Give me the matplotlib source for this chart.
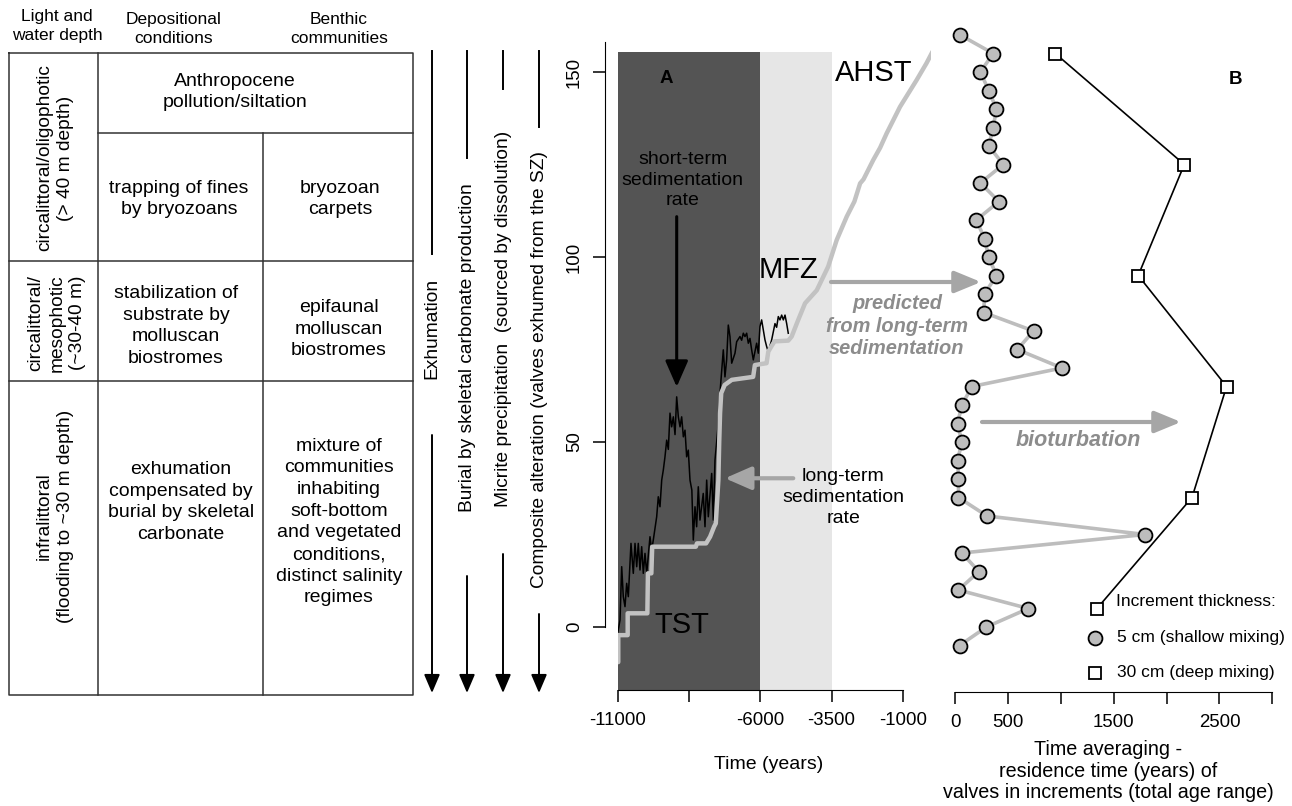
import matplotlib
matplotlib.use('Agg')
import matplotlib.pyplot as plt
from matplotlib.patches import Rectangle

plt.rcParams['font.family'] = ['Liberation Sans', 'DejaVu Sans']

# --- panel A: short-term sedimentation (black) ---
short_x = [-11000, -10919, -10860, -10804, -10744, -10685, -10628, -10534, -10453, -10393,
           -10334, -10278, -10218, -10159, -10102, -10043, -9983, -9868, -9808, -9752,
           -9633, -9577, -9517, -9457, -9401, -9342, -9282, -9225, -9166, -9108,
           -9049, -8990, -8932, -8874, -8815, -8757, -8698, -8640, -8582, -8525,
           -8465, -8400, -8349, -8290, -8232, -8174, -8115, -8000, -7939, -7880,
           -7823, -7704, -7647, -7589, -7530, -7473, -7414, -7297, -7239, -7180,
           -7122, -7063, -7003, -6887, -6829, -6712, -6654, -6595, -6537, -6478,
           -6420, -6362, -6303, -6245, -6128, -6070, -6011, -5953, -5836, -5777,
           -5720, -5601, -5485, -5427, -5368, -5310, -5250, -5192, -5133, -5075, -5019]
short_y = [-1.7, 1.9, 16.3, 8.2, 5.5, 11.8, 8.2, 22.6, 14.5, 22.6,
           16.3, 22.6, 15.4, 21.7, 14.5, 19.9, 14.5, 24.4, 20.8, 23.5,
           29.8, 35.2, 32.5, 39.7, 42.4, 46.0, 50.5, 48.0, 57.8, 54.1,
           56.8, 52.0, 62.2, 56.8, 54.1, 56.8, 51.4, 53.2, 46.0, 47.8,
           39.7, 37.0, 23.5, 32.5, 27.1, 37.9, 28.9, 36.1, 27.1, 39.7,
           29.8, 41.5, 28.9, 45.1, 50.0, 55.0, 63.2, 74.9, 67.6, 72.2,
           81.6, 78.5, 71.3, 74.0, 77.1, 78.5, 77.5, 79.4, 78.5, 79.4,
           76.7, 78.0, 74.9, 72.2, 76.7, 74.0, 81.2, 83.0, 77.6, 75.8,
           74.4, 77.6, 82.0, 81.0, 83.9, 83.0, 84.3, 83.0, 84.3, 82.0, 79.4]

# --- panel A: long-term sedimentation (grey) ---
long_x = [-10980, -10980, -10650, -10650, -9960, -9940, -9820, -9790, -8260, -8220,
          -7900, -7760, -7620, -7560, -7470, -7440, -7410, -7370, -7250, -7000,
          -6250, -6190, -5780, -5720, -5600, -5500, -5020, -4900, -4670, -4430,
          -4020, -3620, -3320, -2970, -2700, -2500, -2380, -2040, -1800, -1570,
          -1100, -520, -170, 40]
long_y = [-9.5, -2.2, -2.2, 3.7, 3.7, 14.5, 14.5, 21.7, 21.7, 22.6,
          22.6, 24.4, 27.1, 28.0, 39.7, 50.0, 57.8, 63.2, 65.4, 66.8,
          67.6, 70.8, 71.3, 74.4, 76.0, 77.2, 77.4, 78.5, 83.0, 87.5,
          91.0, 97.4, 104.6, 110.9, 115.0, 119.9, 121.0, 126.2, 129.5, 133.4,
          140.6, 147.8, 152.4, 155.5]

# --- panel B: time averaging ---
depth_5cm = [160, 155, 150, 145, 140, 135, 130, 125, 120, 115, 110, 105, 100, 95, 90, 85, 80,
             75, 70, 65, 60, 55, 50, 45, 40, 35, 30, 25, 20, 15, 10, 5, 0, -5]
range_5cm = [47, 359, 238, 317, 390, 359, 317, 455, 238, 413, 200, 277, 317, 390, 277, 270, 741,
             587, 1010, 158, 63, 22, 63, 22, 31, 31, 301, 1796, 63, 223, 31, 692, 295, 41]
depth_30cm = [155, 125, 95, 65, 35, 5]
range_30cm = [947, 2167, 1731, 2567, 2240, 1341]

a_ticks = [-11000, -8500, -6000, -3500, -1000]
a_ticklabels = ['-11000', '', '-6000', '-3500', '-1000']
b_ticks = [0, 500, 1000, 1500, 2000, 2500, 3000]
b_ticklabels = ['0', '500', '', '1500', '', '2500', '']

W, H = 1292, 806
fig = plt.figure(figsize=(W / 100, H / 100), dpi=100)


def box(x0, y0, x1, y1):
    return [x0 / W, 1 - y1 / H, (x1 - x0) / W, (y1 - y0) / H]


# overlay in pixel coordinates for the table and the arrows
ov = fig.add_axes([0, 0, 1, 1], zorder=5)
ov.set_xlim(0, W)
ov.set_ylim(H, 0)
ov.axis('off')

lc = '#333333'
tl = 1.1
ov.plot([8.5, 413, 413, 8.5, 8.5], [52.5, 52.5, 695, 695, 52.5], color=lc, lw=tl)
ov.plot([98, 98], [52.5, 695], color=lc, lw=tl)
ov.plot([263, 263], [133, 695], color=lc, lw=tl)
ov.plot([98, 413], [133, 133], color=lc, lw=tl)
ov.plot([8.5, 413], [261, 261], color=lc, lw=tl)
ov.plot([8.5, 413], [381, 381], color=lc, lw=tl)

hf = 12.5
ov.text(57, 26, 'Light and\nwater depth', ha='center', va='center', fontsize=hf, linespacing=1.3)
ov.text(174, 29, 'Depositional\nconditions', ha='center', va='center', fontsize=hf, linespacing=1.3)
ov.text(339, 29, 'Benthic\ncommunities', ha='center', va='center', fontsize=hf, linespacing=1.3)

tf = 14
ls = 1.36
ov.text(235, 92, 'Anthropocene\npollution/siltation', ha='center', va='center', fontsize=tf, linespacing=ls)
ov.text(179, 199, 'trapping of fines\nby bryozoans', ha='center', va='center', fontsize=tf, linespacing=ls)
ov.text(340, 199, 'bryozoan\ncarpets', ha='center', va='center', fontsize=tf, linespacing=ls)
ov.text(176, 326, 'stabilization of\nsubstrate by\nmolluscan\nbiostromes', ha='center', va='center',
        fontsize=tf, linespacing=ls)
ov.text(339, 329, 'epifaunal\nmolluscan\nbiostromes', ha='center', va='center', fontsize=tf, linespacing=ls)
ov.text(181, 502, 'exhumation\ncompensated by\nburial by skeletal\ncarbonate', ha='center', va='center',
        fontsize=tf, linespacing=ls)
ov.text(339, 522, 'mixture of\ncommunities\ninhabiting\nsoft-bottom\nand vegetated\nconditions,\ndistinct salinity\nregimes',
        ha='center', va='center', fontsize=tf, linespacing=ls)
rf = 13.8
ov.text(55, 158, 'circalittoral/oligophotic\n(> 40 m depth)', ha='center', va='center', rotation=90,
        fontsize=rf, linespacing=1.3)
ov.text(57, 323, 'circalittoral/\nmesophotic\n(~30-40 m)', ha='center', va='center', rotation=90,
        fontsize=rf, linespacing=1.3)
ov.text(55, 516, 'infralittoral\n(flooding to ~30 m depth)', ha='center', va='center', rotation=90,
        fontsize=rf, linespacing=1.3)

# process columns with downward arrows
cols = [
    (432, 'Exhumation', 328, 254, 435),
    (467, 'Burial by skeletal carbonate production', 348, 158, 576),
    (503, 'Micrite precipitation  (sourced by dissolution)', 319, 89, 554),
    (539, 'Composite alteration (valves exhumed from the SZ)', 370, 127, 614),
]
for x, label, ty, top_end, bot_start in cols:
    ov.plot([x, x], [51, top_end], color='k', lw=1.4)
    ov.annotate('', xy=(x, 693), xytext=(x, bot_start),
                arrowprops=dict(arrowstyle='-|>,head_length=0.75,head_width=0.32', lw=1.4, color='k',
                                mutation_scale=15, shrinkA=0, shrinkB=0))
    ov.text(x, ty, label, ha='center', va='center', rotation=90, fontsize=13.8)

# ---------------- panel A ----------------
ax_a = fig.add_axes(box(617.7, 42.4, 931.4, 689.9))
ax_a.set_xlim(-11000, 0)
ax_a.set_ylim(-17, 158)
ax_a.add_patch(Rectangle((-11000, -17), 5000, 172.5, color='#545454', zorder=0, lw=0))
ax_a.add_patch(Rectangle((-6000, -17), 2500, 172.5, color='#e6e6e6', zorder=0, lw=0))
ax_a.plot(short_x, short_y, color='k', lw=1.1, zorder=2)
ax_a.plot(long_x, long_y, color='#c2c2c2', lw=3.2, zorder=3, solid_capstyle='round')

for s in ['top', 'right']:
    ax_a.spines[s].set_visible(False)
ax_a.spines['left'].set_position(('outward', 9.1))
ax_a.spines['left'].set_bounds(0, 158)
ax_a.spines['bottom'].set_bounds(-11000, -1000)
ax_a.set_xticks(a_ticks)
ax_a.set_xticklabels(a_ticklabels)
ax_a.set_yticks([0, 50, 100, 150])
ax_a.set_yticklabels(['0', '50', '100', '150'], rotation=90, va='center')
ax_a.tick_params(axis='both', length=8.5, width=1.1, direction='out', labelsize=13.4, pad=7.5)
ax_a.set_xlabel('Time (years)', fontsize=14)
ax_a.xaxis.set_label_coords(0.48, -0.102)

ax_a.text(-9307, 148.3, 'A', fontweight='bold', fontsize=13.5, ha='center', va='center')
ax_a.text(-8721, 120.8, 'short-term\nsedimentation\nrate', fontsize=14, ha='center', va='center',
          linespacing=1.3)
ax_a.annotate('', xy=(-8931, 64.9), xytext=(-8931, 110.9),
              arrowprops=dict(arrowstyle='-|>,head_length=0.8,head_width=0.35', lw=2.2, color='k',
                              mutation_scale=20, shrinkA=0, shrinkB=0))
ax_a.text(-3091, 35.1, 'long-term\nsedimentation\nrate', fontsize=14, ha='center', va='center',
          linespacing=1.3)
ax_a.annotate('', xy=(-7238, 40.2), xytext=(-4844, 40.2),
              arrowprops=dict(arrowstyle='-|>,head_length=0.8,head_width=0.35', lw=3, color='#a6a6a6',
                              mutation_scale=20, shrinkA=0, shrinkB=0))
ax_a.text(-8756, 0.5, 'TST', fontsize=21, ha='center', va='center')
ax_a.text(-5019, 96.5, 'MFZ', fontsize=21, ha='center', va='center')
ax_a.text(-2038, 149.8, 'AHST', fontsize=21, ha='center', va='center')

# ---------------- panel B ----------------
ax_b = fig.add_axes(box(940, 42.4, 1290, 689.9))
ax_b.set_xlim(-144, 3167)
ax_b.set_ylim(-17, 158)
ax_b.patch.set_alpha(0)
for s in ['top', 'right', 'left']:
    ax_b.spines[s].set_visible(False)
ax_b.spines['bottom'].set_position(('outward', 1.5))
ax_b.spines['bottom'].set_bounds(0, 3000)
ax_b.set_yticks([])
ax_b.set_xticks(b_ticks)
ax_b.set_xticklabels(b_ticklabels)
ax_b.tick_params(axis='x', length=8.5, width=1.1, direction='out', labelsize=13.4, pad=7.5)

ax_b.plot(range_5cm, depth_5cm, color='#bdbdbd', lw=2.6, zorder=2, clip_on=False)
ax_b.plot(range_5cm, depth_5cm, 'o', ms=10, mfc='#bdbdbd', mec='k', mew=1.3, zorder=3, clip_on=False)
ax_b.plot(range_30cm, depth_30cm, color='k', lw=1.2, marker='s', ms=9, mfc='white', mec='k', mew=1.3,
          zorder=3, clip_on=False)
ax_b.set_xlabel('Time averaging -\nresidence time (years) of\nvalves in increments (total age range)',
                fontsize=14.2, linespacing=1.15)
ax_b.xaxis.set_label_coords(0.48, -0.078)
ax_b.text(2650, 148, 'B', fontweight='bold', fontsize=13.5, ha='center', va='center')

# legend of panel B
lf = 12.5
ov.text(1116, 601, 'Increment thickness:', fontsize=lf, va='center')
ov.plot([1095.4], [637.7], 'o', ms=10, mfc='#bdbdbd', mec='k', mew=1.3)
ov.text(1117, 637.7, '5 cm (shallow mixing)', fontsize=lf, va='center')
ov.plot([1095.4], [673], 's', ms=9, mfc='white', mec='k', mew=1.3)
ov.text(1117, 673, '30 cm (deep mixing)', fontsize=lf, va='center')

# arrows across panels
grey_txt = '#8c8c8c'
ov.annotate('', xy=(981, 282), xytext=(831, 282),
            arrowprops=dict(arrowstyle='-|>,head_length=0.8,head_width=0.33', lw=3, color='#a6a6a6',
                            mutation_scale=20, shrinkA=0, shrinkB=0))
ov.text(897, 326, 'predicted\nfrom long-term\nsedimentation', color=grey_txt, fontsize=14.4,
        fontweight='bold', fontstyle='italic', ha='center', va='center', linespacing=1.26)
ov.annotate('', xy=(1181, 422), xytext=(982, 422),
            arrowprops=dict(arrowstyle='-|>,head_length=0.8,head_width=0.33', lw=3, color='#a6a6a6',
                            mutation_scale=20, shrinkA=0, shrinkB=0))
ov.text(1078, 440, 'bioturbation', color=grey_txt, fontsize=15.5, fontweight='bold', fontstyle='italic',
        ha='center', va='center')

fig.savefig('out.png', dpi=100)
plt.close(fig)
